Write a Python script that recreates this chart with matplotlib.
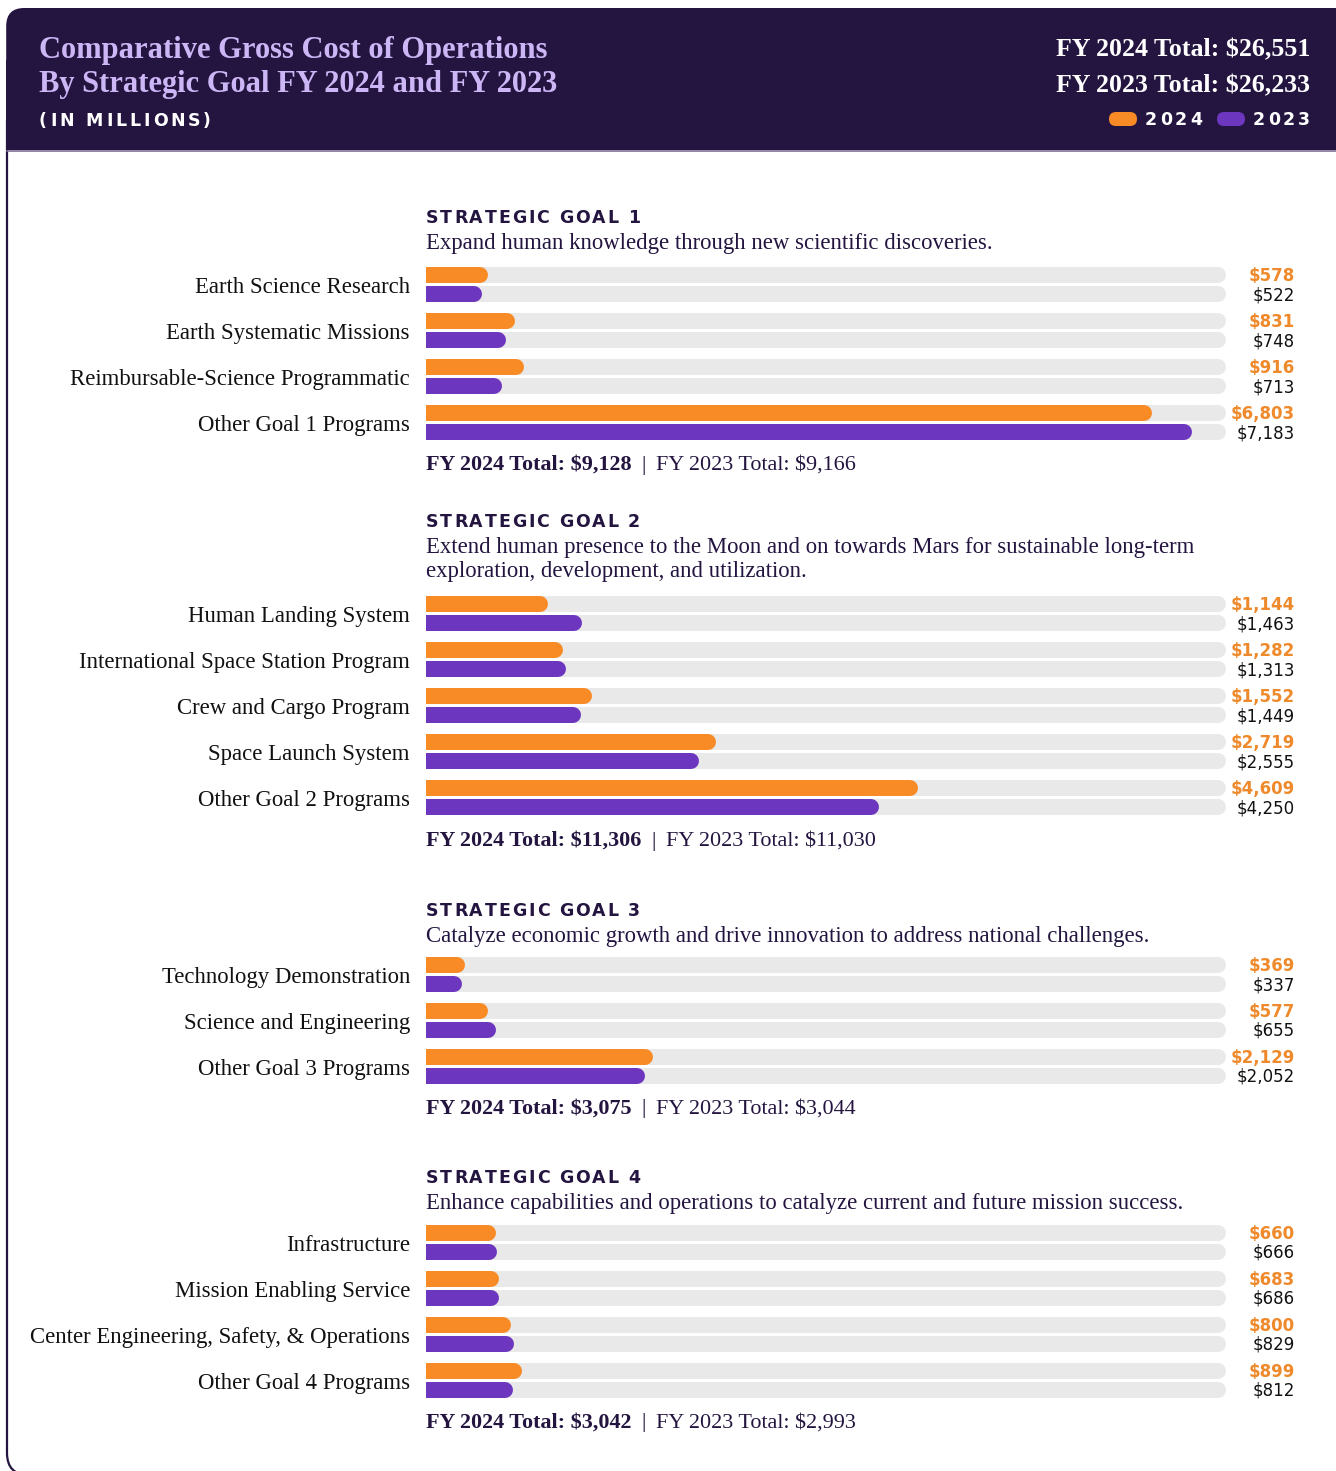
import matplotlib
matplotlib.use("Agg")
import matplotlib.pyplot as plt
from matplotlib.patches import FancyBboxPatch, Rectangle
from matplotlib.font_manager import FontProperties

# ---- data (millions of dollars) ----
goal_titles = ["STRATEGIC GOAL 1", "STRATEGIC GOAL 2", "STRATEGIC GOAL 3", "STRATEGIC GOAL 4"]
goal_desc = [
    ["Expand human knowledge through new scientific discoveries."],
    ["Extend human presence to the Moon and on towards Mars for sustainable long-term",
     "exploration, development, and utilization."],
    ["Catalyze economic growth and drive innovation to address national challenges."],
    ["Enhance capabilities and operations to catalyze current and future mission success."],
]
goal1_labels = ["Earth Science Research", "Earth Systematic Missions",
                "Reimbursable-Science Programmatic", "Other Goal 1 Programs"]
goal1_2024 = [578, 831, 916, 6803]
goal1_2023 = [522, 748, 713, 7183]
goal2_labels = ["Human Landing System", "International Space Station Program",
                "Crew and Cargo Program", "Space Launch System", "Other Goal 2 Programs"]
goal2_2024 = [1144, 1282, 1552, 2719, 4609]
goal2_2023 = [1463, 1313, 1449, 2555, 4250]
goal3_labels = ["Technology Demonstration", "Science and Engineering", "Other Goal 3 Programs"]
goal3_2024 = [369, 577, 2129]
goal3_2023 = [337, 655, 2052]
goal4_labels = ["Infrastructure", "Mission Enabling Service",
                "Center Engineering, Safety, & Operations", "Other Goal 4 Programs"]
goal4_2024 = [660, 683, 800, 899]
goal4_2023 = [666, 686, 829, 812]
goal_total_2024 = [9128, 11306, 3075, 3042]
goal_total_2023 = [9166, 11030, 3044, 2993]
grand_total_2024 = 26551
grand_total_2023 = 26233
scale_max = 7500

goals = [
    (goal1_labels, goal1_2024, goal1_2023),
    (goal2_labels, goal2_2024, goal2_2023),
    (goal3_labels, goal3_2024, goal3_2023),
    (goal4_labels, goal4_2024, goal4_2023),
]

# ---- style ----
W, H = 1336, 1471
DARK = "#241540"
TITLE_C = "#CDB6F6"
ORANGE = "#F98B26"
ORANGE_TXT = "#EF8A2C"
PURPLE = "#6C36BE"
TRACK = "#E9E9E9"
SERIF = "Liberation Serif"
SANS = "DejaVu Sans"

# layout (pixel rows)
header_y = [217, 521, 910, 1177]
first_bar_y = [275, 604, 965, 1233]
total_y = [465, 841, 1109, 1423]
row_step = 46
pair_gap = 19
bar_px = 16
bar_left, bar_right = 426, 1226

fig = plt.figure(figsize=(W / 100, H / 100), dpi=100)
bg = fig.add_axes([0, 0, 1, 1])
bg.set_xlim(0, W)
bg.set_ylim(H, 0)
bg.axis("off")
renderer = fig.canvas.get_renderer()


def tracked(x, y, s, size, color, width):
    # spaced-out caps, laid out char by char to hit the target width
    prop = FontProperties(family=SANS, weight="bold", size=size)
    ws = [renderer.get_text_width_height_descent(c, prop, ismath=False)[0] for c in s]
    step = (width - sum(ws)) / (len(s) - 1)
    base = y + 0.36 * size * 100 / 72
    for c, w in zip(s, ws):
        bg.text(x, base, c, fontproperties=prop, color=color, va="baseline", ha="left", zorder=4)
        x += w + step


# frame
bg.add_patch(FancyBboxPatch((7, 100), W + 60, H + 4 - 100, boxstyle="round,pad=0,rounding_size=22",
                            fc="white", ec=DARK, lw=1.6, zorder=0))
bg.add_patch(FancyBboxPatch((6.2, 8), W + 40, 142, boxstyle="round,pad=0,rounding_size=18",
                            fc=DARK, ec="none", zorder=1))
bg.add_patch(Rectangle((6.2, 60), W, 90, fc=DARK, ec="none", zorder=1))
bg.plot([7, W], [150.5, 150.5], color="#7E6F93", lw=1.2, zorder=2)

# header text
bg.text(39, 50, "Comparative Gross Cost of Operations", color=TITLE_C, fontsize=22,
        fontweight="bold", family=SERIF, va="center", ha="left", zorder=3)
bg.text(39, 84, "By Strategic Goal FY 2024 and FY 2023", color=TITLE_C, fontsize=22,
        fontweight="bold", family=SERIF, va="center", ha="left", zorder=3)
tracked(39, 120, "(IN MILLIONS)", 12.5, "white", 172)
bg.text(1310, 50, f"FY 2024 Total: ${grand_total_2024:,}", color="white", fontsize=18.6,
        fontweight="bold", family=SERIF, va="center", ha="right", zorder=3)
bg.text(1310, 86, f"FY 2023 Total: ${grand_total_2023:,}", color="white", fontsize=18.6,
        fontweight="bold", family=SERIF, va="center", ha="right", zorder=3)
for x0, col, yr in [(1109, ORANGE, "2024"), (1217, PURPLE, "2023")]:
    bg.add_patch(FancyBboxPatch((x0, 112), 28, 14, boxstyle="round,pad=0,rounding_size=7",
                                fc=col, ec="none", zorder=3))
    tracked(x0 + 36, 119, yr, 12.5, "white", 57)

# bar axes: x in millions, y in pixel rows
ax = fig.add_axes([bar_left / W, 0, (bar_right - bar_left) / W, 1])
ax.set_xlim(0, scale_max)
ax.set_ylim(H, 0)
ax.axis("off")
cap = (bar_px / 2) * scale_max / (bar_right - bar_left)
lw = bar_px * 72 / 100


def rbar(y, v, color, z):
    ax.plot([-cap, v - cap], [y, y], color=color, lw=lw, solid_capstyle="round",
            zorder=z, clip_on=True)


for g, (labels, v24, v23) in enumerate(goals):
    tracked(bar_left, header_y[g], goal_titles[g], 12.5, DARK, 214)
    for k, line in enumerate(goal_desc[g]):
        bg.text(bar_left, header_y[g] + 26 + 24 * k, line, color=DARK, fontsize=16.4,
                family=SERIF, va="center", ha="left")
    for i, lab in enumerate(labels):
        y0 = first_bar_y[g] + i * row_step
        y1 = y0 + pair_gap
        rbar(y0, scale_max, TRACK, 1)
        rbar(y1, scale_max, TRACK, 1)
        rbar(y0, v24[i], ORANGE, 2)
        rbar(y1, v23[i], PURPLE, 2)
        bg.text(410, (y0 + y1) / 2 + 3, lab, color="#111111", fontsize=16.4, family=SERIF,
                va="center", ha="right")
        bg.text(1295, y0 + 1, f"${v24[i]:,}", color=ORANGE_TXT, fontsize=12, fontweight="bold",
                family=SANS, va="center", ha="right")
        bg.text(1295, y1 + 1, f"${v23[i]:,}", color="#111111", fontsize=12,
                family=SANS, va="center", ha="right")
    # totals line
    t1 = bg.text(bar_left, total_y[g], f"FY 2024 Total: ${goal_total_2024[g]:,}", color=DARK,
                 fontsize=15.9, fontweight="bold", family=SERIF, va="center", ha="left")
    bb = t1.get_window_extent(renderer)
    t2 = bg.text(bb.x1 + 10, total_y[g], "|", color=DARK, fontsize=15.9, family=SERIF,
                 va="center", ha="left")
    bb2 = t2.get_window_extent(renderer)
    bg.text(bb2.x1 + 10, total_y[g], f"FY 2023 Total: ${goal_total_2023[g]:,}", color=DARK,
            fontsize=15.9, family=SERIF, va="center", ha="left")

fig.savefig("out.png", dpi=100)
